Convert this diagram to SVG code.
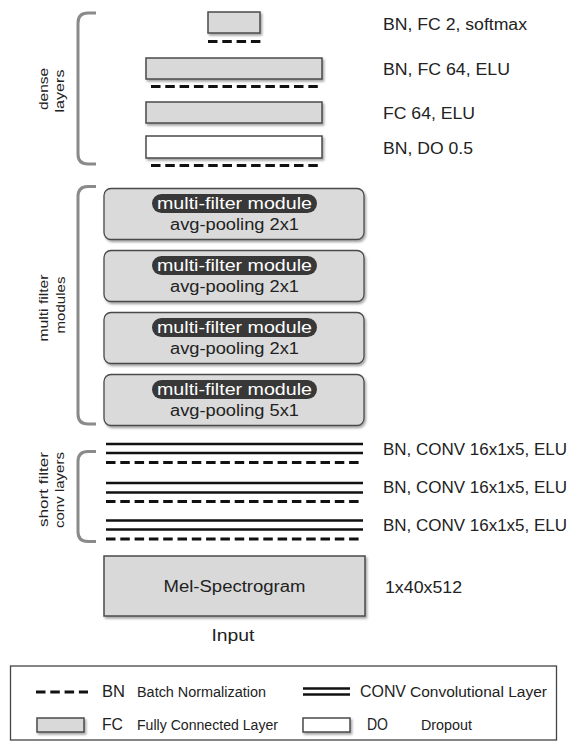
<svg xmlns="http://www.w3.org/2000/svg" width="569" height="751" viewBox="0 0 569 751">
  <defs>
    <filter id="shadow" x="-10%" y="-20%" width="130%" height="160%">
      <feDropShadow dx="1.5" dy="2" stdDeviation="1.2" flood-color="#000" flood-opacity="0.35"/>
    </filter>
    <style>
      .lbl { font-family: "Liberation Sans", Arial, sans-serif; font-size: 16px; fill: #222; }
      .small { font-family: "Liberation Sans", Arial, sans-serif; font-size: 14px; fill: #222; }
      .side { font-family: "Liberation Sans", Arial, sans-serif; font-size: 13.5px; fill: #222; text-anchor: middle; }
      .mid { text-anchor: middle; }
      .fc { fill: #d9d9d9; stroke: #4a4a4a; stroke-width: 1.5; }
      .do { fill: #ffffff; stroke: #4a4a4a; stroke-width: 1.5; }
      .mod { fill: #dadada; stroke: #4a4a4a; stroke-width: 1.3; }
      .pill { fill: #383838; }
      .pilltxt { font-family: "Liberation Sans", Arial, sans-serif; font-size: 16px; fill: #ffffff; text-anchor: middle; }
      .bn { stroke: #111; stroke-width: 3; stroke-dasharray: 9.5 4.8; fill: none; }
      .conv { stroke: #111; stroke-width: 2.6; fill: none; }
      .brace { stroke: #8a8a8a; stroke-width: 3; fill: none; }
    </style>
  </defs>
  <rect width="569" height="751" fill="#ffffff"/>

  <!-- group brackets and their captions -->
  <g id="dense-bracket">
    <path class="brace" d="M96,13 H88 Q78,13 78,23 V154 Q78,164 88,164 H96"/>
    <text class="side" transform="translate(48,89) rotate(-90)" textLength="42" lengthAdjust="spacingAndGlyphs">dense</text>
    <text class="side" transform="translate(64,91) rotate(-90)" textLength="43" lengthAdjust="spacingAndGlyphs">layers</text>
  </g>
  <g id="multi-bracket">
    <path class="brace" d="M96,186.5 H88 Q78,186.5 78,196.5 V414 Q78,424 88,424 H96"/>
    <text class="side" transform="translate(48,308) rotate(-90)" textLength="67" lengthAdjust="spacingAndGlyphs">multi filter</text>
    <text class="side" transform="translate(65,305) rotate(-90)" textLength="57" lengthAdjust="spacingAndGlyphs">modules</text>
  </g>
  <g id="conv-bracket">
    <path class="brace" d="M96,451.5 H88 Q78,451.5 78,461.5 V531.5 Q78,541.5 88,541.5 H96"/>
    <text class="side" transform="translate(48,489.5) rotate(-90)" textLength="75" lengthAdjust="spacingAndGlyphs">short filter</text>
    <text class="side" transform="translate(64,490) rotate(-90)" textLength="76" lengthAdjust="spacingAndGlyphs">conv layers</text>
  </g>

  <!-- dense layers -->
  <g id="fc2-softmax">
    <rect class="fc" x="208" y="12" width="52" height="21" filter="url(#shadow)"/>
    <line class="bn" x1="208" y1="41.5" x2="261" y2="41.5"/>
    <text class="lbl" x="383" y="30" textLength="144" lengthAdjust="spacingAndGlyphs">BN, FC 2, softmax</text>
  </g>
  <g id="fc64-bn">
    <rect class="fc" x="146" y="58" width="176" height="21" filter="url(#shadow)"/>
    <line class="bn" x1="151" y1="86.5" x2="318" y2="86.5"/>
    <text class="lbl" x="383" y="75" textLength="127" lengthAdjust="spacingAndGlyphs">BN, FC 64, ELU</text>
  </g>
  <g id="fc64">
    <rect class="fc" x="146" y="102" width="176" height="21" filter="url(#shadow)"/>
    <text class="lbl" x="383" y="118.5" textLength="92" lengthAdjust="spacingAndGlyphs">FC 64, ELU</text>
  </g>
  <g id="dropout">
    <rect class="do" x="146" y="136" width="176" height="22" filter="url(#shadow)"/>
    <line class="bn" x1="151" y1="165.5" x2="318" y2="165.5"/>
    <text class="lbl" x="383" y="153.5" textLength="90" lengthAdjust="spacingAndGlyphs">BN, DO 0.5</text>
  </g>

  <!-- multi-filter modules -->
  <g id="module-1">
    <rect class="mod" x="104" y="188.5" width="260" height="51" rx="7" filter="url(#shadow)"/>
    <rect class="pill" x="152" y="194" width="165" height="19" rx="9.5"/>
    <text class="pilltxt" x="234.5" y="208.5" textLength="155" lengthAdjust="spacingAndGlyphs">multi-filter module</text>
    <text class="lbl mid" x="234.5" y="229.5" textLength="129" lengthAdjust="spacingAndGlyphs">avg-pooling 2x1</text>
  </g>
  <g id="module-2">
    <rect class="mod" x="104" y="250.5" width="260" height="51" rx="7" filter="url(#shadow)"/>
    <rect class="pill" x="152" y="256" width="165" height="19" rx="9.5"/>
    <text class="pilltxt" x="234.5" y="270.5" textLength="155" lengthAdjust="spacingAndGlyphs">multi-filter module</text>
    <text class="lbl mid" x="234.5" y="291.5" textLength="129" lengthAdjust="spacingAndGlyphs">avg-pooling 2x1</text>
  </g>
  <g id="module-3">
    <rect class="mod" x="104" y="312.5" width="260" height="51" rx="7" filter="url(#shadow)"/>
    <rect class="pill" x="152" y="318" width="165" height="19" rx="9.5"/>
    <text class="pilltxt" x="234.5" y="332.5" textLength="155" lengthAdjust="spacingAndGlyphs">multi-filter module</text>
    <text class="lbl mid" x="234.5" y="353.5" textLength="129" lengthAdjust="spacingAndGlyphs">avg-pooling 2x1</text>
  </g>
  <g id="module-4">
    <rect class="mod" x="104" y="374.5" width="260" height="51" rx="7" filter="url(#shadow)"/>
    <rect class="pill" x="152" y="380" width="165" height="19" rx="9.5"/>
    <text class="pilltxt" x="234.5" y="394.5" textLength="155" lengthAdjust="spacingAndGlyphs">multi-filter module</text>
    <text class="lbl mid" x="234.5" y="415.5" textLength="129" lengthAdjust="spacingAndGlyphs">avg-pooling 5x1</text>
  </g>

  <!-- short filter conv layers -->
  <g id="conv-1">
    <line class="conv" x1="106" y1="444" x2="363" y2="444"/>
    <line class="conv" x1="106" y1="453" x2="363" y2="453"/>
    <line class="bn" x1="106" y1="462.5" x2="363" y2="462.5"/>
    <text class="lbl" x="383" y="454.5" textLength="184" lengthAdjust="spacingAndGlyphs">BN, CONV 16x1x5, ELU</text>
  </g>
  <g id="conv-2">
    <line class="conv" x1="106" y1="483" x2="363" y2="483"/>
    <line class="conv" x1="106" y1="492.5" x2="363" y2="492.5"/>
    <line class="bn" x1="106" y1="501.5" x2="363" y2="501.5"/>
    <text class="lbl" x="383" y="493" textLength="184" lengthAdjust="spacingAndGlyphs">BN, CONV 16x1x5, ELU</text>
  </g>
  <g id="conv-3">
    <line class="conv" x1="106" y1="520.5" x2="363" y2="520.5"/>
    <line class="conv" x1="106" y1="529.5" x2="363" y2="529.5"/>
    <line class="bn" x1="106" y1="539" x2="363" y2="539"/>
    <text class="lbl" x="383" y="530.5" textLength="184" lengthAdjust="spacingAndGlyphs">BN, CONV 16x1x5, ELU</text>
  </g>

  <!-- input -->
  <g id="input">
    <rect class="fc" x="104" y="556" width="261" height="60" filter="url(#shadow)"/>
    <text class="lbl mid" x="234.5" y="591.5" textLength="142" lengthAdjust="spacingAndGlyphs">Mel-Spectrogram</text>
    <text class="lbl" x="385" y="593" textLength="77" lengthAdjust="spacingAndGlyphs">1x40x512</text>
    <text class="lbl mid" x="233" y="641" textLength="43" lengthAdjust="spacingAndGlyphs">Input</text>
  </g>

  <!-- connectors: the stack has none -->
  <g id="connectors"/>

  <!-- legend -->
  <g id="legend">
    <rect x="10.5" y="666" width="546" height="74" fill="#ffffff" stroke="#444" stroke-width="1.3"/>
    <line class="bn" x1="36" y1="692" x2="88" y2="692"/>
    <text class="lbl" x="102" y="697" textLength="23" lengthAdjust="spacingAndGlyphs">BN</text>
    <text class="small" x="137" y="697" textLength="129" lengthAdjust="spacingAndGlyphs">Batch Normalization</text>
    <line class="conv" x1="303" y1="688.5" x2="350" y2="688.5"/>
    <line class="conv" x1="303" y1="694.5" x2="350" y2="694.5"/>
    <text class="lbl" x="360" y="697" textLength="46" lengthAdjust="spacingAndGlyphs">CONV</text>
    <text class="small" x="410" y="697" textLength="137" lengthAdjust="spacingAndGlyphs">Convolutional Layer</text>
    <rect class="fc" x="37" y="718" width="47" height="14" filter="url(#shadow)"/>
    <text class="lbl" x="102" y="730" textLength="21" lengthAdjust="spacingAndGlyphs">FC</text>
    <text class="small" x="137" y="730" textLength="141" lengthAdjust="spacingAndGlyphs">Fully Connected Layer</text>
    <rect class="do" x="303" y="718" width="47" height="14" filter="url(#shadow)"/>
    <text class="lbl" x="367" y="730" textLength="21" lengthAdjust="spacingAndGlyphs">DO</text>
    <text class="small" x="421" y="730" textLength="51" lengthAdjust="spacingAndGlyphs">Dropout</text>
  </g>
</svg>
